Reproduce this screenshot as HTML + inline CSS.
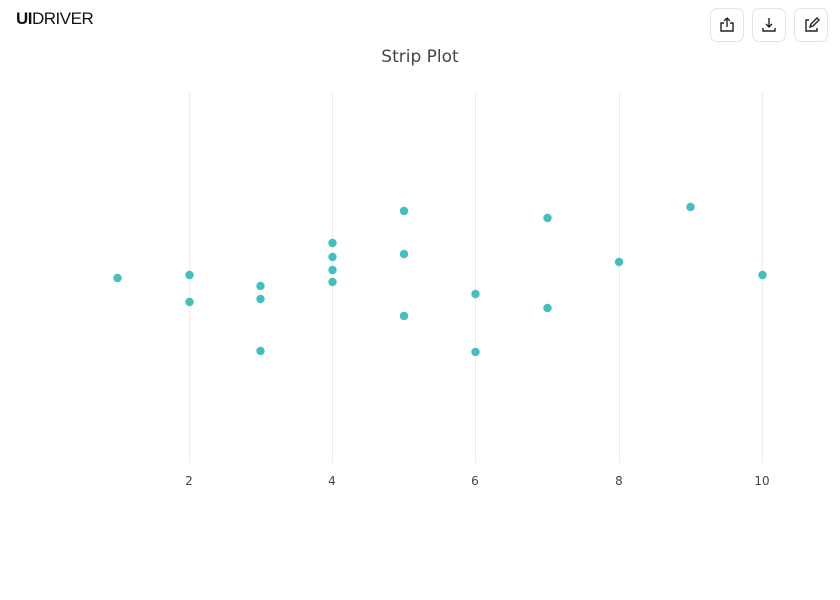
<!DOCTYPE html>
<html><head><style>
body{margin:0;background:#fff;font-family:"Liberation Sans","DejaVu Sans",sans-serif;}
.btn{position:absolute;top:8px;width:34px;height:34px;border:1px solid #e3e3e3;border-radius:7px;box-sizing:border-box;background:#fff}
</style></head><body>
<div style="position:relative;width:840px;height:600px;overflow:hidden">
<div style="position:absolute;left:16px;top:9px;font:bold 17px 'Liberation Sans',sans-serif;letter-spacing:-0.5px;color:#111">UI<span style="font-weight:normal">DRIVER</span></div>
<div class="btn" style="left:710px"></div>
<div class="btn" style="left:752px"></div>
<div class="btn" style="left:794px"></div>
<svg width="840" height="600" style="position:absolute;left:0;top:0" font-family="DejaVu Sans, sans-serif">
<g stroke="#222" stroke-width="1.4" fill="none">
<path d="M727 27v-9M724 21l3-3 3 3M724 23h-3v8h12v-8h-3"/>
<path d="M769 18v9M766 24l3 3 3-3M763 28v3h12v-3"/>
<path d="M809 20h-3v11h11v-3M810 27l1-3 6-6 2 2-6 6z"/>
</g>
<text x="420" y="62" text-anchor="middle" font-size="17" fill="#444">Strip Plot</text>
<g stroke="#ececec" stroke-width="1">
<line x1="189.5" y1="92" x2="189.5" y2="463"/><line x1="332.5" y1="92" x2="332.5" y2="463"/><line x1="475.5" y1="92" x2="475.5" y2="463"/><line x1="619.5" y1="92" x2="619.5" y2="463"/><line x1="762.5" y1="92" x2="762.5" y2="463"/>
</g>
<g font-size="12" fill="#444" text-anchor="middle">
<text x="189" y="485">2</text><text x="332" y="485">4</text><text x="475" y="485">6</text><text x="619" y="485">8</text><text x="762" y="485">10</text>
</g>
<g fill="#44bfbf">
<circle cx="117.5" cy="278" r="4.2"/><circle cx="189.5" cy="275" r="4.2"/><circle cx="189.5" cy="302" r="4.2"/>
<circle cx="260.5" cy="286" r="4.2"/><circle cx="260.5" cy="299" r="4.2"/><circle cx="260.5" cy="351" r="4.2"/>
<circle cx="332.5" cy="243" r="4.2"/><circle cx="332.5" cy="257" r="4.2"/><circle cx="332.5" cy="270" r="4.2"/><circle cx="332.5" cy="282" r="4.2"/>
<circle cx="404" cy="211" r="4.2"/><circle cx="404" cy="254" r="4.2"/><circle cx="404" cy="316" r="4.2"/>
<circle cx="475.5" cy="294" r="4.2"/><circle cx="475.5" cy="352" r="4.2"/>
<circle cx="547.5" cy="218" r="4.2"/><circle cx="547.5" cy="308" r="4.2"/>
<circle cx="619" cy="262" r="4.2"/><circle cx="690.5" cy="207" r="4.2"/><circle cx="762.5" cy="275" r="4.2"/>
</g>
</svg>
</div>
</body></html>
